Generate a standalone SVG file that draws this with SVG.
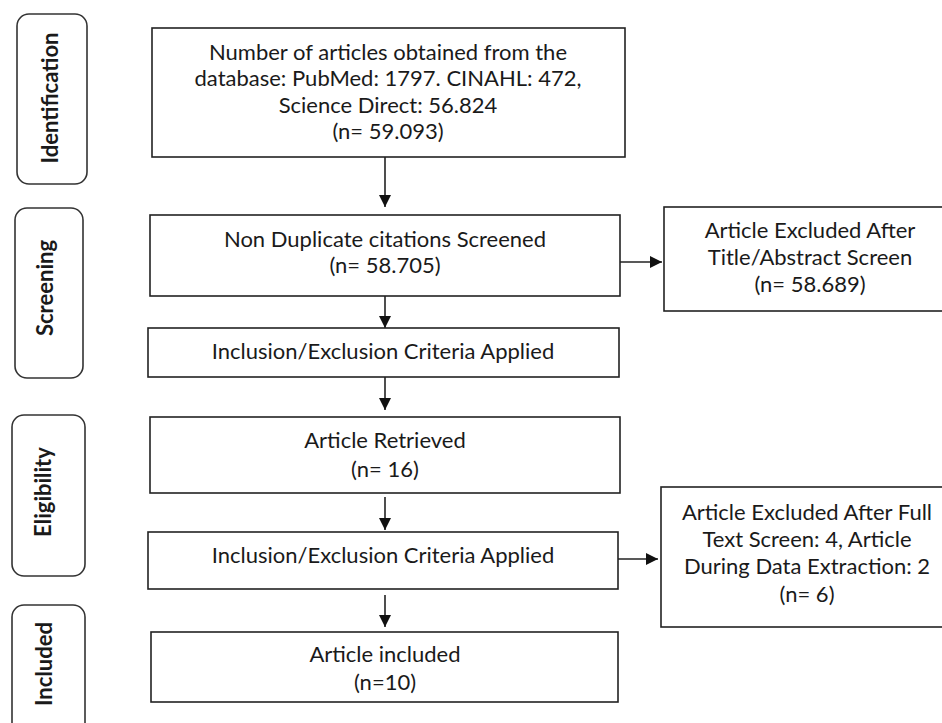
<svg xmlns="http://www.w3.org/2000/svg" width="942" height="723" viewBox="0 0 942 723">
<defs>
<style>
.box{fill:#fff;stroke:#222;stroke-width:1.6}
.stage{fill:#fff;stroke:#333;stroke-width:1.6}
.t{font-family:Lato,"Open Sans","Liberation Sans",sans-serif;font-size:22px;fill:#1a1a1a;text-anchor:middle}
.s{font-family:Lato,"Open Sans","Liberation Sans",sans-serif;font-size:22px;font-weight:bold;fill:#1a1a1a;text-anchor:middle}
.c{stroke:#222;stroke-width:1.6;fill:none;marker-end:url(#ah)}
</style>
<marker id="ah" viewBox="0 0 12 12" refX="12" refY="6" markerWidth="12" markerHeight="12" markerUnits="userSpaceOnUse" orient="auto">
<path d="M0,0 L12,6 L0,12 Z" fill="#111"/>
</marker>
</defs>
<rect width="942" height="723" fill="#fff"/>

<g id="stage-identification">
<rect class="stage" x="17" y="14" width="70" height="170" rx="12"/>
<text class="s" transform="translate(58,98) rotate(-90)">Identification</text>
</g>
<g id="stage-screening">
<rect class="stage" x="15" y="208" width="68" height="170" rx="12"/>
<text class="s" transform="translate(53,288) rotate(-90)">Screening</text>
</g>
<g id="stage-eligibility">
<rect class="stage" x="12" y="415" width="73" height="161" rx="12"/>
<text class="s" transform="translate(51,492) rotate(-90)">Eligibility</text>
</g>
<g id="stage-included">
<rect class="stage" x="12" y="605" width="73" height="130" rx="12"/>
<text class="s" transform="translate(52,664) rotate(-90)">Included</text>
</g>

<g id="connectors">
<line class="c" x1="385" y1="157" x2="385" y2="207"/>
<line class="c" x1="385" y1="296" x2="385" y2="328"/>
<line class="c" x1="385" y1="377" x2="385" y2="410"/>
<line class="c" x1="385" y1="497" x2="385" y2="530"/>
<line class="c" x1="385" y1="595" x2="385" y2="627"/>
<line class="c" x1="620" y1="262" x2="662" y2="262"/>
<line class="c" x1="618" y1="559" x2="658" y2="559"/>
</g>

<g id="n-identified">
<rect class="box" x="152" y="28" width="473" height="129"/>
<text class="t" x="388" y="60">Number of articles obtained from the</text>
<text class="t" x="388" y="86">database: PubMed: 1797. CINAHL: 472,</text>
<text class="t" x="388" y="113">Science Direct: 56.824</text>
<text class="t" x="388" y="139">(n= 59.093)</text>
</g>
<g id="n-screened">
<rect class="box" x="150" y="215" width="470" height="81"/>
<text class="t" x="385" y="247">Non Duplicate citations Screened</text>
<text class="t" x="385" y="273">(n= 58.705)</text>
</g>
<g id="n-excluded-title">
<rect class="box" x="664" y="207" width="290" height="104"/>
<text class="t" x="810" y="238">Article Excluded After</text>
<text class="t" x="810" y="265">Title/Abstract Screen</text>
<text class="t" x="810" y="292">(n= 58.689)</text>
</g>
<g id="n-criteria-1">
<rect class="box" x="148" y="328" width="471" height="49"/>
<text class="t" x="383" y="359">Inclusion/Exclusion Criteria Applied</text>
</g>
<g id="n-retrieved">
<rect class="box" x="150" y="417" width="470" height="76"/>
<text class="t" x="385" y="448">Article Retrieved</text>
<text class="t" x="385" y="477">(n= 16)</text>
</g>
<g id="n-criteria-2">
<rect class="box" x="148" y="532" width="470" height="57"/>
<text class="t" x="383" y="563">Inclusion/Exclusion Criteria Applied</text>
</g>
<g id="n-excluded-full">
<rect class="box" x="661" y="487" width="290" height="140"/>
<text class="t" x="807" y="520">Article Excluded After Full</text>
<text class="t" x="807" y="547">Text Screen: 4, Article</text>
<text class="t" x="807" y="574">During Data Extraction: 2</text>
<text class="t" x="807" y="602">(n= 6)</text>
</g>
<g id="n-included">
<rect class="box" x="151" y="632" width="467" height="70"/>
<text class="t" x="385" y="662">Article included</text>
<text class="t" x="385" y="690">(n=10)</text>
</g>
</svg>
